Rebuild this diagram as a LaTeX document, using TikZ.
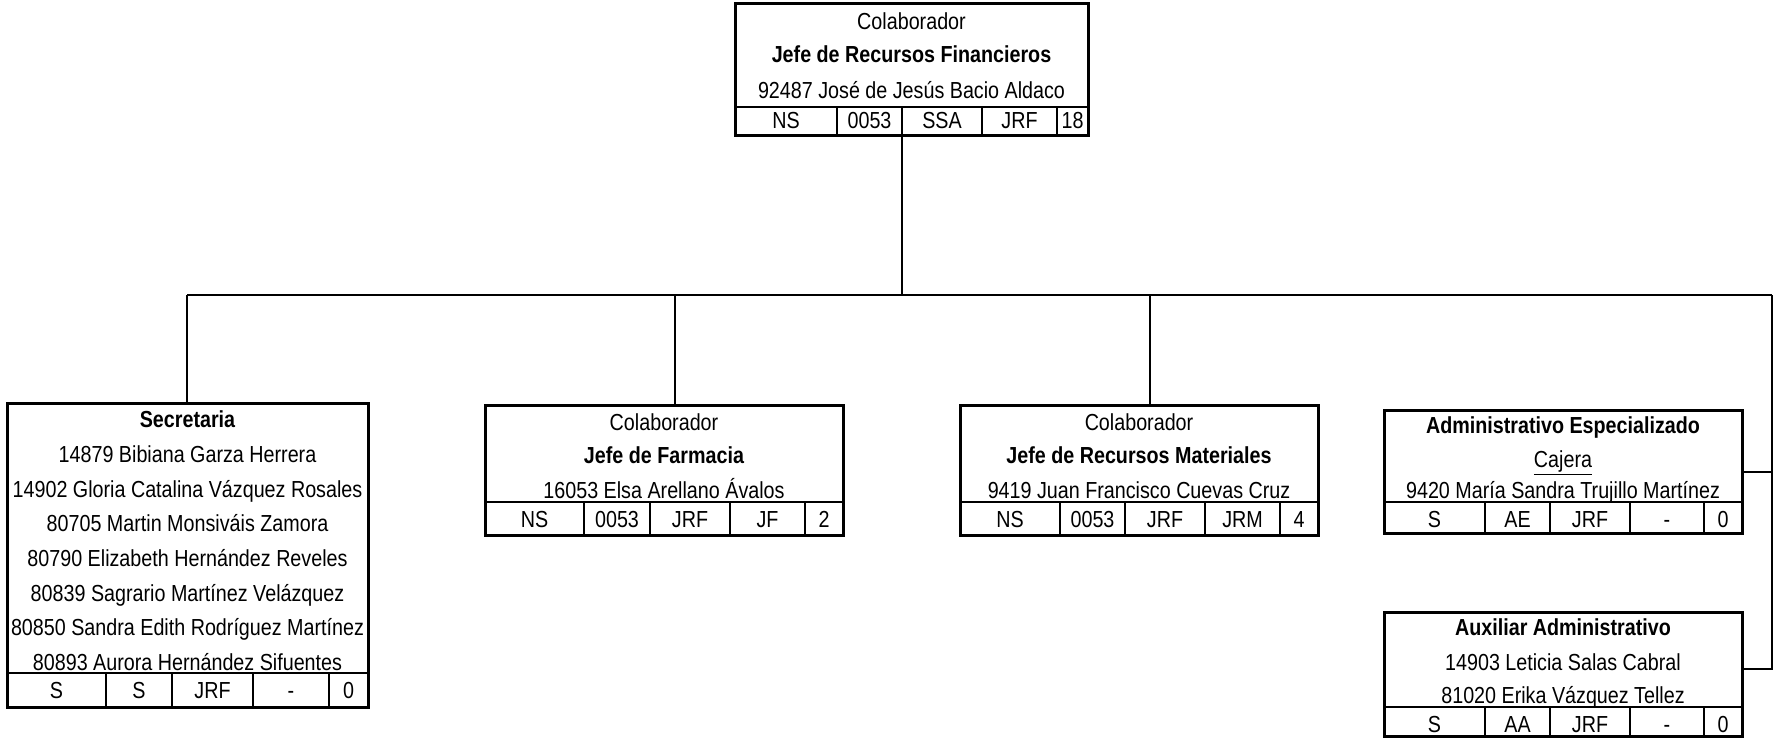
\documentclass[tikz,border=0pt]{standalone}
\usepackage{fontspec}
\setmainfont{Liberation Sans}[FakeStretch=0.85]
\usetikzlibrary{fit}
\begin{document}
\begin{tikzpicture}[x=0.5pt,y=-0.5pt,
  box/.style={draw, line width=1.5pt, inner sep=0pt},
  conn/.style={line width=0.8pt},
  tline/.style={line width=1pt},
  txt/.style={anchor=base, inner sep=0pt, font=\fontsize{11.6}{13}\selectfont},
  btxt/.style={txt, font=\fontsize{11.6}{13}\selectfont\bfseries}]
\useasboundingbox (0,0) rectangle (1776,738);

% ---------- top box ----------
\coordinate (jrf-nw) at (735,4); \coordinate (jrf-se) at (1088,135);
\node[box, fit=(jrf-nw)(jrf-se)] (jrf) {};
\draw[tline] (735,107) -- (1088,107);
\foreach \c in {837,902,982,1057} \draw[tline] (\c,107) -- (\c,135);
\node[txt] (jrf-a) at (911.5,30) {Colaborador};
\node[btxt] (jrf-b) at (911.5,63) {Jefe de Recursos Financieros};
\node[txt] (jrf-c) at (911.5,98) {92487 José de Jesús Bacio Aldaco};
\node[txt] (jrf-1) at (786,128) {NS};
\node[txt] (jrf-2) at (869.5,128) {0053};
\node[txt] (jrf-3) at (942,128) {SSA};
\node[txt] (jrf-4) at (1019.5,128) {JRF};
\node[txt] (jrf-5) at (1072.5,128) {18};

% ---------- Secretaria ----------
\coordinate (sec-nw) at (7,403); \coordinate (sec-se) at (368,707);
\node[box, fit=(sec-nw)(sec-se)] (sec) {};
\draw[tline] (7,673) -- (368,673);
\foreach \c in {106,172,253,329} \draw[tline] (\c,673) -- (\c,707);
\node[btxt] (sec-a) at (187.5,427) {Secretaria};
\node[txt] (sec-b) at (187.5,462.6) {14879 Bibiana Garza Herrera};
\node[txt] (sec-c) at (187.5,497.2) {14902 Gloria Catalina Vázquez Rosales};
\node[txt] (sec-d) at (187.5,531.8) {80705 Martin Monsiváis Zamora};
\node[txt] (sec-e) at (187.5,566.4) {80790 Elizabeth Hernández Reveles};
\node[txt] (sec-f) at (187.5,601) {80839 Sagrario Martínez Velázquez};
\node[txt] (sec-g) at (187.5,635.6) {80850 Sandra Edith Rodríguez Martínez};
\node[txt] (sec-h) at (187.5,670.2) {80893 Aurora Hernández Sifuentes};
\node[txt] (sec-1) at (56.5,698) {S};
\node[txt] (sec-2) at (139,698) {S};
\node[txt] (sec-3) at (212.5,698) {JRF};
\node[txt] (sec-4) at (291,698) {-};
\node[txt] (sec-5) at (348.5,698) {0};

% ---------- Jefe de Farmacia ----------
\coordinate (jf-nw) at (485,405); \coordinate (jf-se) at (843,535);
\node[box, fit=(jf-nw)(jf-se)] (jf) {};
\draw[tline] (485,502) -- (843,502);
\foreach \c in {584,650,730,805} \draw[tline] (\c,502) -- (\c,535);
\node[txt] (jf-a) at (664,430) {Colaborador};
\node[btxt] (jf-b) at (664,463) {Jefe de Farmacia};
\node[txt] (jf-c) at (664,498) {16053 Elsa Arellano Ávalos};
\node[txt] (jf-1) at (534.5,527) {NS};
\node[txt] (jf-2) at (617,527) {0053};
\node[txt] (jf-3) at (690,527) {JRF};
\node[txt] (jf-4) at (767.5,527) {JF};
\node[txt] (jf-5) at (824,527) {2};

% ---------- Jefe de Recursos Materiales ----------
\coordinate (jrm-nw) at (960,405); \coordinate (jrm-se) at (1318,535);
\node[box, fit=(jrm-nw)(jrm-se)] (jrm) {};
\draw[tline] (960,502) -- (1318,502);
\foreach \c in {1060,1125,1205,1280} \draw[tline] (\c,502) -- (\c,535);
\node[txt] (jrm-a) at (1139,430) {Colaborador};
\node[btxt] (jrm-b) at (1139,463) {Jefe de Recursos Materiales};
\node[txt] (jrm-c) at (1139,498) {9419 Juan Francisco Cuevas Cruz};
\node[txt] (jrm-1) at (1010,527) {NS};
\node[txt] (jrm-2) at (1092.5,527) {0053};
\node[txt] (jrm-3) at (1165,527) {JRF};
\node[txt] (jrm-4) at (1242.5,527) {JRM};
\node[txt] (jrm-5) at (1299,527) {4};

% ---------- Administrativo Especializado ----------
\coordinate (ae-nw) at (1384,410); \coordinate (ae-se) at (1742,533);
\node[box, fit=(ae-nw)(ae-se)] (ae) {};
\draw[tline] (1384,502) -- (1742,502);
\foreach \c in {1485,1550,1630,1704} \draw[tline] (\c,502) -- (\c,533);
\node[btxt] (ae-a) at (1563,433) {Administrativo Especializado};
\node[txt] (ae-b) at (1563,467) {\underline{Cajera}};
\node[txt] (ae-c) at (1563,498) {9420 María Sandra Trujillo Martínez};
\node[txt] (ae-1) at (1434.5,527) {S};
\node[txt] (ae-2) at (1517.5,527) {AE};
\node[txt] (ae-3) at (1590,527) {JRF};
\node[txt] (ae-4) at (1667,527) {-};
\node[txt] (ae-5) at (1723,527) {0};

% ---------- Auxiliar Administrativo ----------
\coordinate (aa-nw) at (1384,612); \coordinate (aa-se) at (1742,736);
\node[box, fit=(aa-nw)(aa-se)] (aa) {};
\draw[tline] (1384,707) -- (1742,707);
\foreach \c in {1485,1550,1630,1704} \draw[tline] (\c,707) -- (\c,736);
\node[btxt] (aa-a) at (1563,635) {Auxiliar Administrativo};
\node[txt] (aa-b) at (1563,670) {14903 Leticia Salas Cabral};
\node[txt] (aa-c) at (1563,703) {81020 Erika Vázquez Tellez};
\node[txt] (aa-1) at (1434.5,732) {S};
\node[txt] (aa-2) at (1517.5,732) {AA};
\node[txt] (aa-3) at (1590,732) {JRF};
\node[txt] (aa-4) at (1667,732) {-};
\node[txt] (aa-5) at (1723,732) {0};

% ---------- connectors ----------
\coordinate (bus) at (902,295);
\coordinate (busL) at (187,295);
\coordinate (busR) at (1772,295);
\draw[conn] (jrf.south -| bus) -- (bus);
\draw[conn] (busL) -- (busR);
\draw[conn] (busL) -- (busL |- sec.north);
\draw[conn] (675,295) -- (jf.north -| 675,0);
\draw[conn] (1150,295) -- (jrm.north -| 1150,0);
\draw[conn] (busR) -- (1772,669) -- (aa.east |- 0,669);
\draw[conn] (1772,472) -- (ae.east |- 0,472);
\end{tikzpicture}
\end{document}
